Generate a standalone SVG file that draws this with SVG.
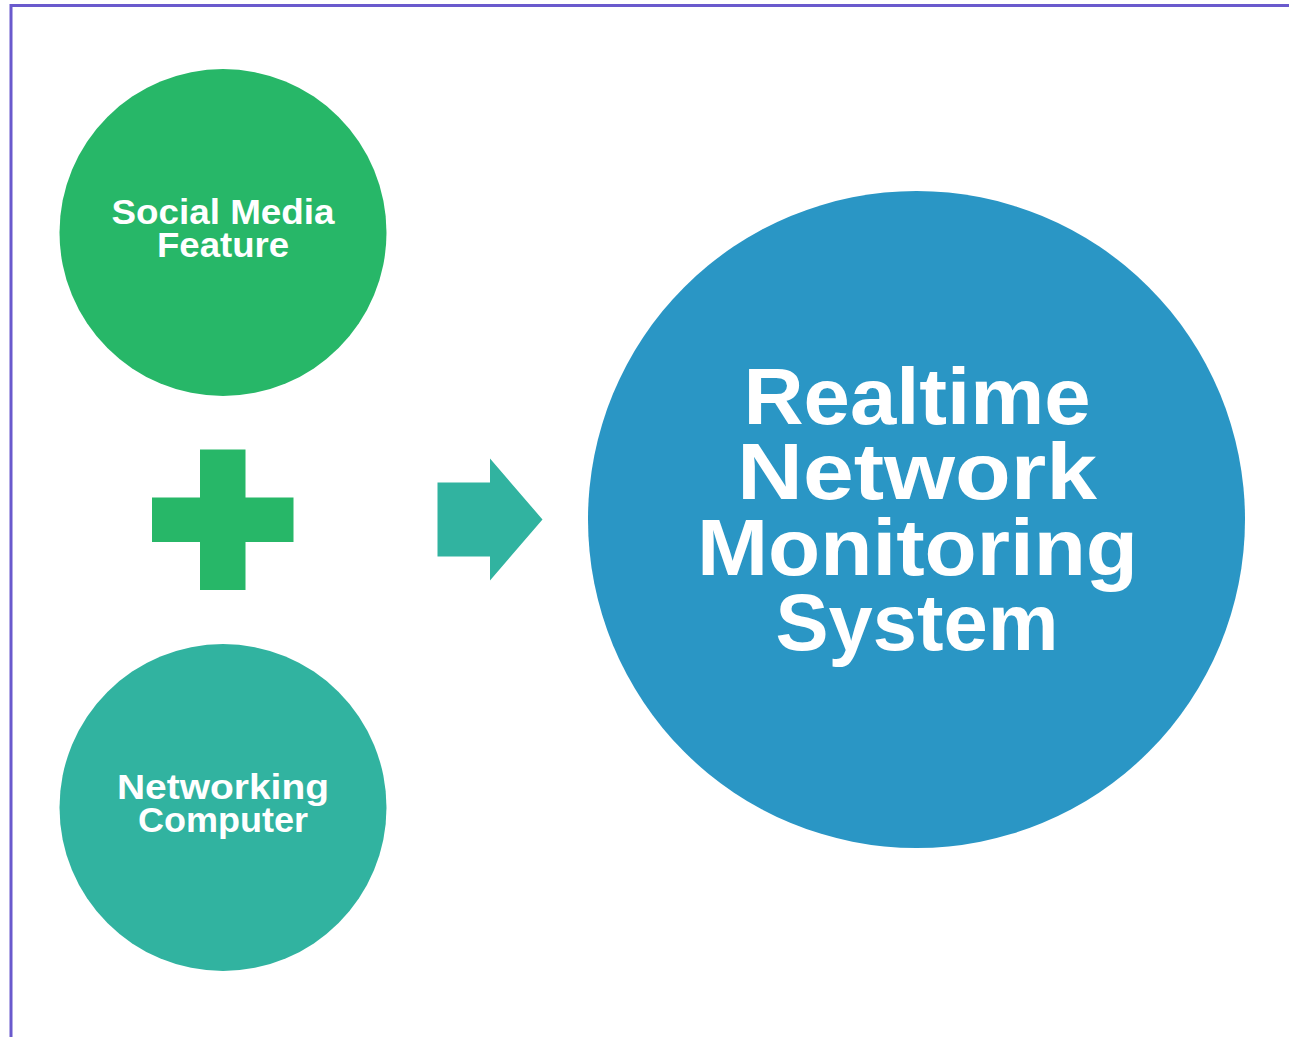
<svg xmlns="http://www.w3.org/2000/svg" width="1289" height="1037" viewBox="0 0 1289 1037">
<style>
.lbl{font-family:"Liberation Sans",Arial,sans-serif;font-weight:bold;fill:#ffffff;text-anchor:middle}
.sm{font-size:35px}
.big{font-size:80px}
</style>
<rect x="0" y="0" width="1289" height="1037" fill="#ffffff"/>
<path d="M11 1037 V5.5 H1289" fill="none" stroke="#6a5acd" stroke-width="3"/>
<g id="social-media">
<circle cx="223" cy="232.5" r="163.5" fill="#27b768"/>
<text class="lbl sm" x="223" y="224" textLength="223" lengthAdjust="spacingAndGlyphs">Social Media</text>
<text class="lbl sm" x="223" y="257" textLength="132" lengthAdjust="spacingAndGlyphs">Feature</text>
</g>
<g id="networking-computer">
<circle cx="223" cy="807.5" r="163.5" fill="#31b3a0"/>
<text class="lbl sm" x="223" y="799" textLength="212" lengthAdjust="spacingAndGlyphs">Networking</text>
<text class="lbl sm" x="223" y="832" textLength="170" lengthAdjust="spacingAndGlyphs">Computer</text>
</g>
<g id="realtime-system">
<circle cx="916.5" cy="519.5" r="328.5" fill="#2a96c5"/>
<text class="lbl big" x="917" y="424" textLength="347" lengthAdjust="spacingAndGlyphs">Realtime</text>
<text class="lbl big" x="917" y="498.5" textLength="360" lengthAdjust="spacingAndGlyphs">Network</text>
<text class="lbl big" x="917.5" y="575" textLength="441" lengthAdjust="spacingAndGlyphs">Monitoring</text>
<text class="lbl big" x="917" y="650" textLength="283" lengthAdjust="spacingAndGlyphs">System</text>
</g>
<g id="connectors">
<path id="plus" d="M200 449.5 H245.5 V497.5 H293.5 V542 H245.5 V590 H200 V542 H152 V497.5 H200 Z" fill="#27b768"/>
<path id="arrow" d="M437.5 482.5 H490 V458.5 L542.5 519.5 L490 580.5 V556.5 H437.5 Z" fill="#31b3a0"/>
</g>
</svg>
